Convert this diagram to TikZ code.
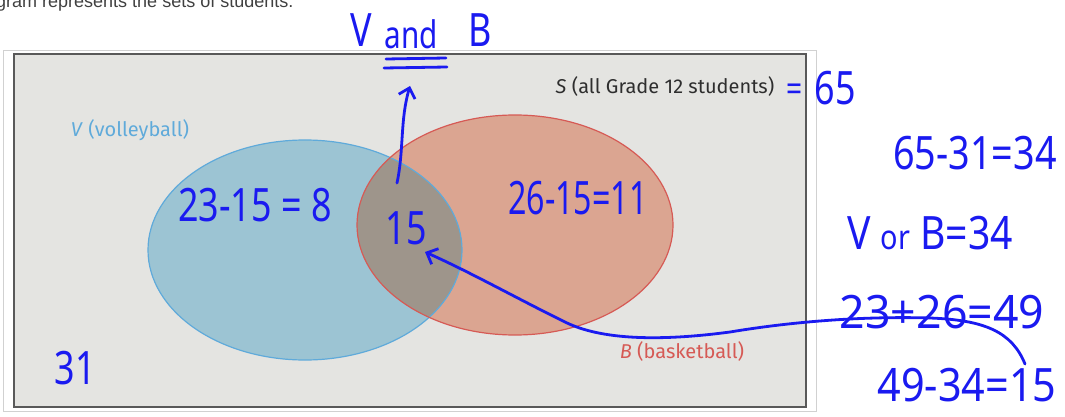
\documentclass[tikz,border=0pt]{standalone}
\usepackage{fontspec}
\usepackage{graphicx}
\setmainfont{Fira Sans}
\newfontfamily\hwfont{Noto Sans}
\newfontfamily\topfont{Liberation Sans}
\usetikzlibrary{arrows.meta}
\definecolor{pen}{HTML}{1A1AF0}
\definecolor{bgpanel}{HTML}{E4E4E1}
\definecolor{vfill}{HTML}{9CC4D3}
\definecolor{vedge}{HTML}{5FAADA}
\definecolor{bfill}{HTML}{DBA591}
\definecolor{bedge}{HTML}{D65A55}
\definecolor{ovfill}{HTML}{9E958B}
\definecolor{labeldark}{HTML}{2E2E2E}
\newcommand\hwx[2][0.78]{\scalebox{#1}[1]{#2}}
\begin{document}
\begin{tikzpicture}[x=1pt,y=-1pt,
  hw/.style={text=pen,font=\hwfont\fontsize{46}{46}\selectfont,inner sep=0pt},
  hwsmall/.style={text=pen,font=\hwfont\fontsize{36}{36}\selectfont,inner sep=0pt},
  setlabel/.style={font=\fontsize{20}{20}\selectfont,inner sep=0pt},
  penline/.style={draw=pen,line width=2.8pt,line cap=round,line join=round},
  pentip/.style={-{Straight Barb[length=9pt,width=17pt,line width=2.8pt]}}]
\useasboundingbox (0,0) rectangle (1065,417);
\fill[white] (0,0) rectangle (1065,417);
% top cut-off text
\node[anchor=base west,inner sep=0pt,text=black!75,font=\topfont\fontsize{18}{18}\selectfont] (toptext) at (-4,8) {gram represents the sets of students.};
% frames
\draw[black!18,fill=white,line width=0.8pt] (3,50) rectangle (816,411);
\draw[black!65,fill=bgpanel,line width=1.6pt] (14,54) rectangle (806,407);
% ellipses
\fill[vfill] (305,250) ellipse [x radius=157,y radius=110];
\fill[bfill] (515,225) ellipse [x radius=158,y radius=110];
\begin{scope}
  \clip (305,250) ellipse [x radius=157,y radius=110];
  \fill[ovfill] (515,225) ellipse [x radius=158,y radius=110];
\end{scope}
\draw[vedge,line width=1.2pt] (305,250) ellipse [x radius=157,y radius=110];
\draw[bedge,line width=1.2pt] (515,225) ellipse [x radius=158,y radius=110];
% set labels
\node[setlabel,text=vedge] (vlab) at (130,130) {\textit{V} (volleyball)};
\node[setlabel,text=labeldark] (slab) at (665,87) {\textit{S} (all Grade 12 students)};
\node[setlabel,text=bedge] (blab) at (682,351) {\textit{B} (basketball)};
% handwritten texts
\node[hw] (hV) at (361,30) {\hwx{V}};
\node[hw,font=\hwfont\fontsize{38}{38}\selectfont] (hand) at (411,34) {\hwx{and}};
\node[hw] (hB) at (480,30) {\hwx{B}};
\coordinate (ul1a) at (386,59); \coordinate (ul1b) at (446,58);
\coordinate (ul2a) at (384,68); \coordinate (ul2b) at (447,67);
\draw[penline] (ul1a) -- (ul1b);
\draw[penline] (ul2a) -- (ul2b);
\node[hwsmall] (eq65) at (795,93) {\hwx{=}};
\node[hw] (n65) at (835,88) {\hwx{65}};
\node[hw] (calc1) at (975,153) {\hwx[0.82]{65-31=34}};
\node[hw] (vorb) at (930,233) {\hwx[0.85]{V {\fontsize{34}{34}\selectfont or} B=34}};
\node[hw] (calc2) at (942,312) {\hwx[0.97]{23+26=49}};
\node[hw] (calc3) at (967,385) {\hwx[0.9]{49-34=15}};
\node[hw] (vonly) at (255,205) {\hwx{23-15 = 8}};
\node[hw] (bonly) at (578,198) {\hwx[0.7]{26-15=11}};
\node[hw] (both) at (406,228) {\hwx{15}};
\node[hw] (none) at (75,368) {\hwx{31}};
% arrows
\coordinate (a1s) at (397,183);
\coordinate (a1e) at (410,86);
\draw[penline,pentip] (a1s) .. controls (404,150) and (400,120) .. (a1e);
\coordinate (a2s) at (1025,364);
\coordinate (a2e) at (425,252);
\draw[penline,pentip] (a2s) .. controls (1012,332) and (985,320) .. (930,318)
  .. controls (860,316) and (790,322) .. (730,332)
  .. controls (670,340) and (605,342) .. (565,322)
  .. controls (520,300) and (470,272) .. (a2e);
\end{tikzpicture}
\end{document}
